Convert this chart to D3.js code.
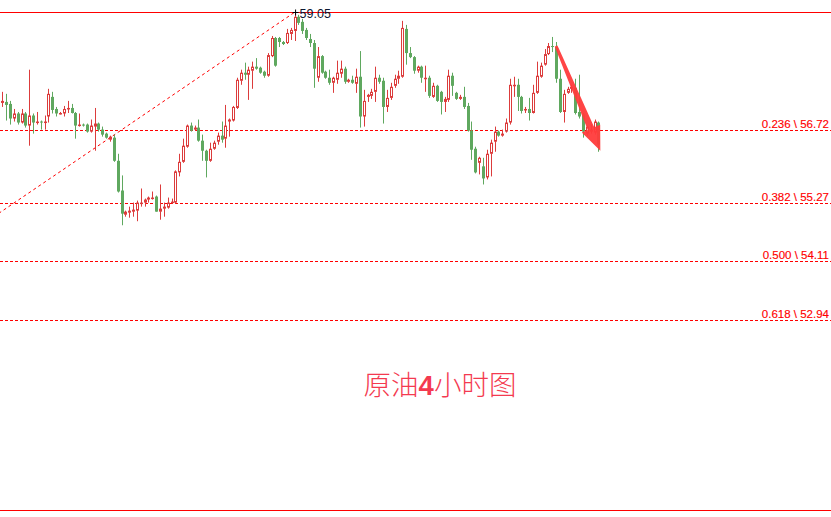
<!DOCTYPE html>
<html><head><meta charset="utf-8">
<script src="https://cdn.jsdelivr.net/npm/d3@7"></script>
<style>html,body{margin:0;padding:0;background:#fff;overflow:hidden}</style>
</head><body>
<svg id="chart" width="831" height="517"></svg>
<script>
// ---- data (crude oil, 4-hour candles) ----
const opens = [57.25,57.27,57.23,56.94,57.04,56.86,57.04,56.80,57.00,56.86,
56.88,56.86,56.98,57.37,57.13,57.04,57.04,57.13,57.15,57.05,
56.80,56.82,56.82,56.68,56.78,56.84,56.72,56.64,56.52,56.56,
56.10,55.51,55.03,55.07,55.09,55.11,55.25,55.27,55.33,55.35,
55.39,55.09,55.15,55.17,55.27,55.27,55.87,56.08,56.38,56.80,
56.72,56.76,56.50,56.30,56.10,56.34,56.48,56.60,56.54,56.88,
56.90,57.15,57.69,57.85,57.81,57.89,57.97,57.95,57.87,57.79,
58.18,58.54,58.54,58.46,58.44,58.62,58.68,58.96,58.86,58.70,
58.52,58.44,57.75,58.18,57.87,57.75,57.65,57.71,57.83,57.93,
57.67,57.71,57.63,57.77,56.98,57.37,57.39,57.47,57.75,57.69,
57.17,57.35,57.59,57.73,57.77,58.72,58.24,58.16,57.89,57.97,
57.73,57.75,57.37,57.59,57.47,57.27,57.31,57.79,57.45,57.33,
57.37,57.19,56.70,56.34,56.06,55.99,55.77,56.24,56.48,56.68,
56.60,56.68,56.86,57.59,57.61,57.37,57.11,57.13,57.05,57.45,
57.77,58.01,58.22,58.38,58.36,57.73,57.07,57.45,57.53,57.55,
57.07,57.02,56.64,56.68,56.66,56.86];
const highs = [57.47,57.43,57.29,57.13,57.07,57.13,57.07,57.91,57.04,57.07,
56.90,57.00,57.53,57.47,57.17,57.07,57.19,57.29,57.23,57.07,
57.04,56.84,56.84,56.92,57.15,56.86,56.78,56.66,56.60,56.62,
56.24,55.81,55.11,55.19,55.27,55.31,55.55,55.35,55.39,55.49,
55.41,55.63,55.27,55.37,55.35,55.91,56.24,56.54,56.82,56.86,
56.80,56.92,56.62,56.32,56.46,56.50,56.66,56.88,57.21,56.94,
57.19,57.75,57.91,58.05,57.97,58.07,58.14,57.97,57.89,58.24,
58.58,58.56,58.56,58.48,58.72,58.74,59.05,59.00,58.92,58.74,
58.62,58.50,58.36,58.20,57.89,57.91,57.77,58.09,58.09,57.97,
57.73,57.79,57.93,58.28,57.51,57.43,57.53,57.97,57.81,57.75,
57.51,57.65,57.81,57.89,58.88,58.80,58.36,58.18,57.99,57.99,
57.99,57.79,57.65,57.61,57.49,57.37,57.91,57.85,57.47,57.41,
57.57,57.25,56.88,56.38,56.18,56.16,56.32,56.52,56.78,56.70,
56.72,56.94,57.73,57.77,57.73,57.39,57.17,57.35,57.61,58.07,
58.05,58.32,58.44,58.56,58.46,57.91,57.51,57.57,57.61,57.73,
57.81,57.05,56.80,56.82,56.92,56.88];
const lows = [57.17,56.90,56.82,56.88,56.82,56.84,56.76,56.40,56.64,56.82,
56.72,56.72,56.86,57.04,56.98,57.02,56.98,57.05,57.04,56.54,
56.78,56.78,56.66,56.66,56.30,56.68,56.58,56.54,56.48,56.08,
55.47,54.82,54.99,54.97,54.99,54.90,55.19,55.19,55.27,55.33,
55.09,54.93,54.99,55.15,55.25,55.25,55.79,56.06,56.36,56.68,
56.70,56.48,56.10,55.77,56.08,56.32,56.42,56.46,56.36,56.58,
56.88,57.13,57.61,57.71,57.31,57.53,57.91,57.83,57.75,57.77,
58.16,57.97,58.36,58.40,58.42,58.50,58.48,58.80,58.62,58.50,
58.36,57.55,57.67,57.83,57.73,57.61,57.45,57.63,57.75,57.63,
57.65,57.63,57.45,56.76,56.78,57.27,57.33,57.27,57.63,56.84,
57.07,57.31,57.55,57.63,57.75,58.01,58.14,57.83,57.85,57.65,
57.47,57.35,57.35,57.27,57.02,57.07,57.27,57.39,57.31,57.31,
57.13,56.68,56.12,55.85,55.83,55.63,55.73,55.79,56.28,56.58,
56.58,56.66,56.82,57.37,57.09,57.04,57.05,56.90,57.04,57.43,
57.75,57.99,58.20,58.26,57.65,57.05,56.86,57.43,57.45,57.02,
56.94,56.56,56.60,56.64,56.62,56.28];
const closes = [57.29,57.21,56.94,57.04,56.86,57.04,56.80,57.00,56.86,56.88,
56.86,56.88,57.43,57.11,57.04,57.05,57.13,57.15,57.05,56.80,
56.82,56.80,56.68,56.80,56.84,56.72,56.62,56.56,56.58,56.10,
55.49,55.05,55.09,55.11,55.13,55.27,55.27,55.33,55.37,55.37,
55.09,55.15,55.19,55.27,55.29,55.89,56.08,56.40,56.80,56.70,
56.76,56.50,56.30,56.10,56.34,56.46,56.60,56.52,56.80,56.92,
57.17,57.71,57.85,57.81,57.91,57.97,57.93,57.85,57.79,58.20,
58.54,57.99,58.46,58.42,58.64,58.70,58.96,58.84,58.68,58.54,
58.44,57.93,58.18,57.85,57.75,57.65,57.75,57.85,57.93,57.67,
57.71,57.65,57.77,56.98,57.29,57.41,57.47,57.75,57.67,57.17,
57.35,57.57,57.73,57.79,58.74,58.24,58.16,57.89,57.97,57.75,
57.75,57.39,57.59,57.29,57.27,57.33,57.79,57.59,57.33,57.37,
57.17,56.70,56.32,55.87,56.16,55.75,56.24,56.46,56.68,56.60,
56.64,56.86,57.61,57.61,57.37,57.09,57.13,57.05,57.45,57.79,
57.99,58.22,58.38,58.36,57.73,57.07,57.43,57.53,57.57,57.05,
56.98,56.68,56.78,56.72,56.88,56.42];

// Fibonacci retracement
const fibRatios = [0, 0.236, 0.382, 0.5, 0.618, 1];
const fibPrices = [59.05, 56.72, 55.27, 54.11, 52.94, 49.16];
const fibHighIndex = 77;      // candle that made the 59.05 high
const fibLowIndex = -113.5;   // swing low, off the left edge
const highLabel = "59.05";

// Trend arrow (candle index, price)
const arrowFrom = [145, 58.38];
const arrowTo = [156.5, 56.30];

const titleParts = ["原油", "4", "小时图"];

// ---- drawing ----
const W = 831, H = 517;
const svg = d3.select("#chart");
const red = "#ff0000";
const upColor = "#dc3c3c", downColor = "#5fa85f";

const candles = opens.map((o, i) => ({i: i + 1, o, h: highs[i], l: lows[i], c: closes[i]}));

const x = d3.scaleLinear().domain([1, 156]).range([2.3, 598.4]);
const y = d3.scaleLinear().domain([49.16, 59.05]).range([510.2, 12.3]);
const crisp = v => Math.round(v) + 0.5;

// fib horizontal lines
const levels = fibRatios.map((r, k) => ({r, p: fibPrices[k]}));
svg.append("g").selectAll("line").data(levels).join("line")
  .attr("x1", 0).attr("x2", W)
  .attr("y1", d => crisp(y(d.p))).attr("y2", d => crisp(y(d.p)))
  .attr("stroke", red).attr("stroke-width", 1)
  .attr("stroke-dasharray", d => (d.r === 0 || d.r === 1) ? null : "3,2");

// fib labels
svg.append("g").selectAll("text").data(levels.filter(d => d.r > 0 && d.r < 1)).join("text")
  .attr("x", 829).attr("y", d => crisp(y(d.p)) - 3)
  .attr("text-anchor", "end")
  .attr("font-family", "'Liberation Sans', Arial, sans-serif")
  .attr("font-size", "11.5px")
  .attr("fill", red).attr("stroke", red).attr("stroke-width", 0.15)
  .text(d => d.r.toFixed(3) + " \\ " + d.p.toFixed(2));

// diagonal fib trend line
svg.append("line")
  .attr("x1", x(fibLowIndex)).attr("y1", y(fibPrices[5]))
  .attr("x2", x(fibHighIndex)).attr("y2", y(fibPrices[0]))
  .attr("stroke", red).attr("stroke-width", 1).attr("stroke-dasharray", "3,3");

// candles
const g = svg.append("g");
const cx = d => Math.round(x(d.i));
g.selectAll("line.wick").data(candles).join("line").attr("class", "wick")
  .attr("x1", d => cx(d) + 0.5).attr("x2", d => cx(d) + 0.5)
  .attr("y1", d => y(d.h)).attr("y2", d => y(d.l))
  .attr("stroke", d => d.c >= d.o ? upColor : downColor).attr("stroke-width", 1);

g.selectAll("rect.down").data(candles.filter(d => d.c < d.o)).join("rect").attr("class", "down")
  .attr("x", d => cx(d) - 1).attr("width", 3)
  .attr("y", d => y(d.o)).attr("height", d => Math.max(1, y(d.c) - y(d.o)))
  .attr("fill", downColor);

g.selectAll("rect.up").data(candles.filter(d => d.c >= d.o)).join("rect").attr("class", "up")
  .attr("x", d => cx(d) - 0.5).attr("width", 2)
  .attr("y", d => y(d.c) + 0.5).attr("height", d => Math.max(0.5, y(d.o) - y(d.c) - 1))
  .attr("fill", "#fff").attr("stroke", upColor).attr("stroke-width", 1);

// high marker and label
const hx = x(fibHighIndex) + 1, hy = crisp(y(fibPrices[0]));
svg.append("path")
  .attr("d", `M${hx - 3},${hy}H${hx + 3}M${hx},${hy - 3}V${hy + 3}`)
  .attr("stroke", "#000").attr("stroke-width", 1);
svg.append("text")
  .attr("x", hx + 4).attr("y", hy + 5)
  .attr("font-family", "'Liberation Sans', Arial, sans-serif")
  .attr("font-size", "12.5px").attr("fill", "#0b1630")
  .text(highLabel);

// arrow
(function () {
  const x0 = x(arrowFrom[0]), y0 = y(arrowFrom[1]);
  const x1 = x(arrowTo[0]), y1 = y(arrowTo[1]);
  const dx = x1 - x0, dy = y1 - y0, len = Math.hypot(dx, dy);
  const ux = dx / len, uy = dy / len, nx = -uy, ny = ux;
  const headLen = 24, headW = 10, sw0 = 1.5, sw1 = 3.5;
  const bx = x1 - ux * headLen, by = y1 - uy * headLen;
  const pts = [
    [x0 + nx * sw0, y0 + ny * sw0],
    [bx + nx * sw1, by + ny * sw1],
    [bx + nx * headW, by + ny * headW],
    [x1, y1],
    [bx - nx * headW, by - ny * headW],
    [bx - nx * sw1, by - ny * sw1],
    [x0 - nx * sw0, y0 - ny * sw0]
  ];
  svg.append("path").attr("d", d3.line()(pts) + "Z")
    .attr("fill", "#ff3b3b").attr("fill-opacity", 0.95);
})();

// title
const t = svg.append("text")
  .attr("x", 440).attr("y", 395).attr("text-anchor", "middle")
  .attr("font-family", "'Noto Sans CJK SC', sans-serif")
  .attr("font-size", "27.5px").attr("font-weight", 300)
  .attr("fill", "#f43a50");
t.append("tspan").text(titleParts[0]);
t.append("tspan").attr("font-weight", 700).attr("font-family", "'Liberation Sans', Arial, sans-serif").text(titleParts[1]);
t.append("tspan").text(titleParts[2]);
</script>
</body></html>
